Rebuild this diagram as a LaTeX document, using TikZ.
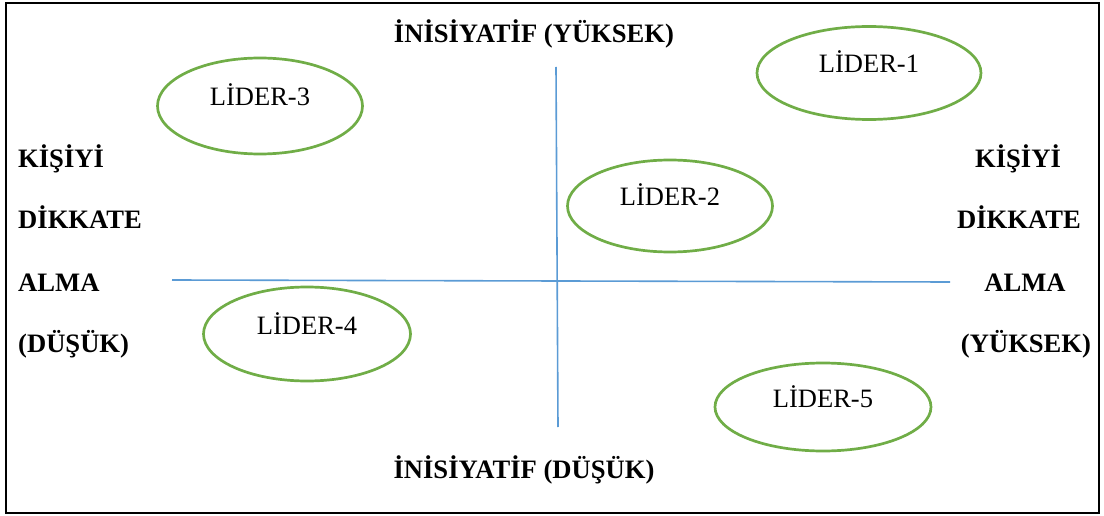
\documentclass[tikz,border=0pt]{standalone}
\usepackage{fontspec}
\setmainfont{Liberation Serif}
\usepackage{xcolor}
\usetikzlibrary{shapes}
\definecolor{lidergreen}{RGB}{112,173,71}
\definecolor{eksenblue}{RGB}{91,155,213}

\begin{document}
\begin{tikzpicture}[x=1pt,y=-1pt,
  lider/.style={draw=lidergreen,line width=2.7pt,ellipse,inner sep=0pt},
  lidertext/.style={anchor=base,inner sep=0pt,font=\fontsize{26.5}{30}\selectfont},
  baslik/.style={anchor=base,inner sep=0pt,font=\fontsize{26.6}{30}\selectfont\bfseries}]
  \useasboundingbox (0,0) rectangle (1104,516);
  % frame
  \draw[line width=2.8pt] (6,3) rectangle (1099,513);

  % axes
  \coordinate (ust) at (556,67);
  \coordinate (alt) at (558,427);
  \coordinate (sol) at (172,280);
  \coordinate (sag) at (950,282);
  \draw[eksenblue,line width=1.6pt] (ust) -- (alt);
  \draw[eksenblue,line width=1.6pt] (sol) -- (sag);

  % axis titles
  \node[baslik] (inisyuksek) at (534,43) {İNİSİYATİF (YÜKSEK)};
  \node[baslik] (inisdusuk) at (524,478) {İNİSİYATİF (DÜŞÜK)};

  \node[baslik,anchor=base west] (sol1) at (18,168) {KİŞİYİ};
  \node[baslik,anchor=base west] (sol2) at (18,229) {DİKKATE};
  \node[baslik,anchor=base west] (sol3) at (18,291) {ALMA};
  \node[baslik,anchor=base west] (sol4) at (18,352) {(DÜŞÜK)};

  \node[baslik] (sag1) at (1018,168) {KİŞİYİ};
  \node[baslik] (sag2) at (1019,229) {DİKKATE};
  \node[baslik] (sag3) at (1025,291) {ALMA};
  \node[baslik] (sag4) at (1026,352) {(YÜKSEK)};

  % leaders
  \node[lider,minimum width=224pt,minimum height=93pt] (lider1) at (869,73) {};
  \node[lider,minimum width=205pt,minimum height=92pt] (lider2) at (670,206) {};
  \node[lider,minimum width=205pt,minimum height=96pt] (lider3) at (260,106) {};
  \node[lider,minimum width=207pt,minimum height=94pt] (lider4) at (307,334) {};
  \node[lider,minimum width=216pt,minimum height=88pt] (lider5) at (823,407) {};

  \node[lidertext] (t1) at (lider1.center) {LİDER-1};
  \node[lidertext] (t2) at (lider2.center) {LİDER-2};
  \node[lidertext] (t3) at (lider3.center) {LİDER-3};
  \node[lidertext] (t4) at (lider4.center) {LİDER-4};
  \node[lidertext] (t5) at (lider5.center) {LİDER-5};
\end{tikzpicture}
\end{document}
